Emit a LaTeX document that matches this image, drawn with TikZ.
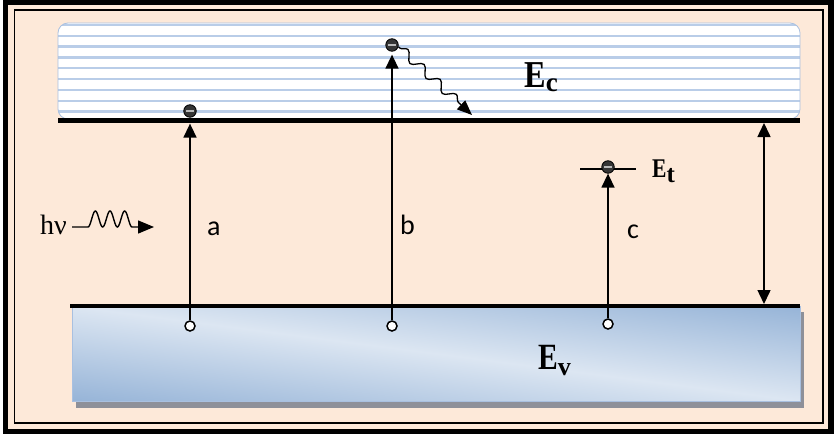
\documentclass[tikz,border=0pt]{standalone}
\usepackage{fontspec}
\setmainfont{Liberation Serif}
\newfontfamily\labfont{Carlito}
\usetikzlibrary{arrows.meta,decorations.pathmorphing}
\definecolor{cream}{HTML}{FDE9D9}
\definecolor{stripe}{HTML}{B9CDE8}
\definecolor{cbborder}{HTML}{A9C0E0}
\definecolor{evdark}{HTML}{95B3D7}
\definecolor{evlight}{HTML}{DCE6F2}
\definecolor{shadowgray}{HTML}{8E9099}
\definecolor{elec}{HTML}{353535}
\begin{document}
\begin{tikzpicture}[x=1pt,y=-1pt,
  arr/.style={line width=1.5pt,-{Triangle[length=14pt,width=13pt]}},
  darr/.style={line width=1.5pt,{Triangle[length=14pt,width=13pt]}-{Triangle[length=14pt,width=13pt]}},
  electron/.style={circle,fill=elec,draw=black,line width=0.8pt,minimum size=12.5pt,inner sep=0pt,
    path picture={\draw[gray!55,line width=1.5pt] ([xshift=-4pt]path picture bounding box.center) -- ([xshift=4pt]path picture bounding box.center);}},
  hole/.style={circle,fill=white,draw=black,line width=1.5pt,minimum size=10pt,inner sep=0pt},
  lab/.style={inner sep=0pt,anchor=base west,font=\labfont\fontsize{28}{30}\selectfont},
  elab/.style={inner sep=0pt,anchor=base west,font=\bfseries},
  bandline/.style={line width=5pt},
  stripeline/.style={stripe,line width=2.2pt},
]
\useasboundingbox (0,0) rectangle (834,436);
% frame
\fill[white] (0,0) rectangle (834,436);
\fill[cream] (5.5,2.75) rectangle (831,431.25);
\draw[line width=5.5pt] (5.5,2.75) rectangle (831,431.25);
\draw[line width=1.3pt] (14.5,10) rectangle (823,423);
% conduction band
\begin{scope}
  \clip[rounded corners=10pt] (58,23) rectangle (800,119);
  \fill[white] (58,23) rectangle (800,119);
  \foreach \y in {25,35.8,...,116} \draw[stripeline] (58,\y) -- (800,\y);
\end{scope}
\draw[cbborder,line width=0.8pt,rounded corners=10pt] (58,23) rectangle (800,119);
\coordinate (ecL) at (58,120.5);
\coordinate (ecR) at (800,120.5);
\draw[bandline] (ecL) -- (ecR);
% valence band
\fill[shadowgray] (76,312) rectangle (804,408);
\begin{scope}
  \clip (72,306) rectangle (800,401);
  \begin{scope}[transform canvas={rotate around={-7.4:(436,353.5)}}]
    \shade[top color=evdark,bottom color=evdark,middle color=evlight] (16,258) rectangle (856,449);
  \end{scope}
\end{scope}
\draw[cbborder,line width=0.8pt] (72,306) rectangle (800,401);
\coordinate (evL) at (70,306);
\coordinate (evR) at (800,306);
\draw[line width=4.5pt] (evL) -- (evR);
% electrons and holes
\node[electron] (ea) at (190,111) {};
\node[electron] (eb) at (392,45) {};
\node[hole] (ha) at (190,326) {};
\node[hole] (hb) at (392,326) {};
\node[hole] (hc) at (608,324) {};
% trap level
\coordinate (etL) at (580,169);
\coordinate (etR) at (636,169);
\draw[line width=1.3pt] (etL) -- (etR);
\node[electron] (ec) at (608,167) {};
% transitions
\draw[arr,shorten >=6pt] (ha) -- (ea);
\draw[arr,shorten >=3pt] (hb) -- (eb);
\draw[arr,shorten >=0pt] (hc) -- (ec);
% gap arrow
\coordinate (gtop) at (764,123);
\coordinate (gbot) at (764,304);
\draw[darr] (gtop) -- (gbot);
% relaxation photon
\coordinate (phend) at (472,115);
\draw[line width=1.3pt,decorate,decoration={snake,amplitude=4.5pt,segment length=22pt,pre length=2pt,post length=16pt},
  -{Triangle[length=15pt,width=12pt]}] (eb.-15) -- (phend);
% incoming photon
\node[inner sep=0pt,anchor=base west,font=\fontsize{28}{30}\selectfont] (hv) at (40,234) {hν};
\coordinate (ph0) at (72,227);
\coordinate (ph9) at (154,227);
\draw[line width=1.4pt,-{Triangle[length=16pt,width=13pt]}] (ph0) -- (88,227)
  -- plot[domain=0:1,samples=61,smooth] ({88+44*\x},{227-8*(1-cos(1080*\x))}) -- (ph9);
% labels
\node[lab] (la) at (207,235) {a};
\node[lab] (lb) at (400,234) {b};
\node[lab] (lc) at (627,238) {c};
\node[elab] (lec) at (524,87) {\fontsize{38}{40}\selectfont\scalebox{0.85}[1]{E}\raisebox{-4pt}{\fontsize{27}{28}\selectfont c}};
\node[elab] (lev) at (538,369) {\fontsize{37}{40}\selectfont\scalebox{0.8}[1]{E}\raisebox{-6pt}{\fontsize{26}{28}\selectfont v}};
\node[elab] (let) at (652,177) {\fontsize{27}{28}\selectfont\scalebox{0.8}[1]{E}\raisebox{-5pt}{\fontsize{25}{26}\selectfont t}};
\end{tikzpicture}
\end{document}
